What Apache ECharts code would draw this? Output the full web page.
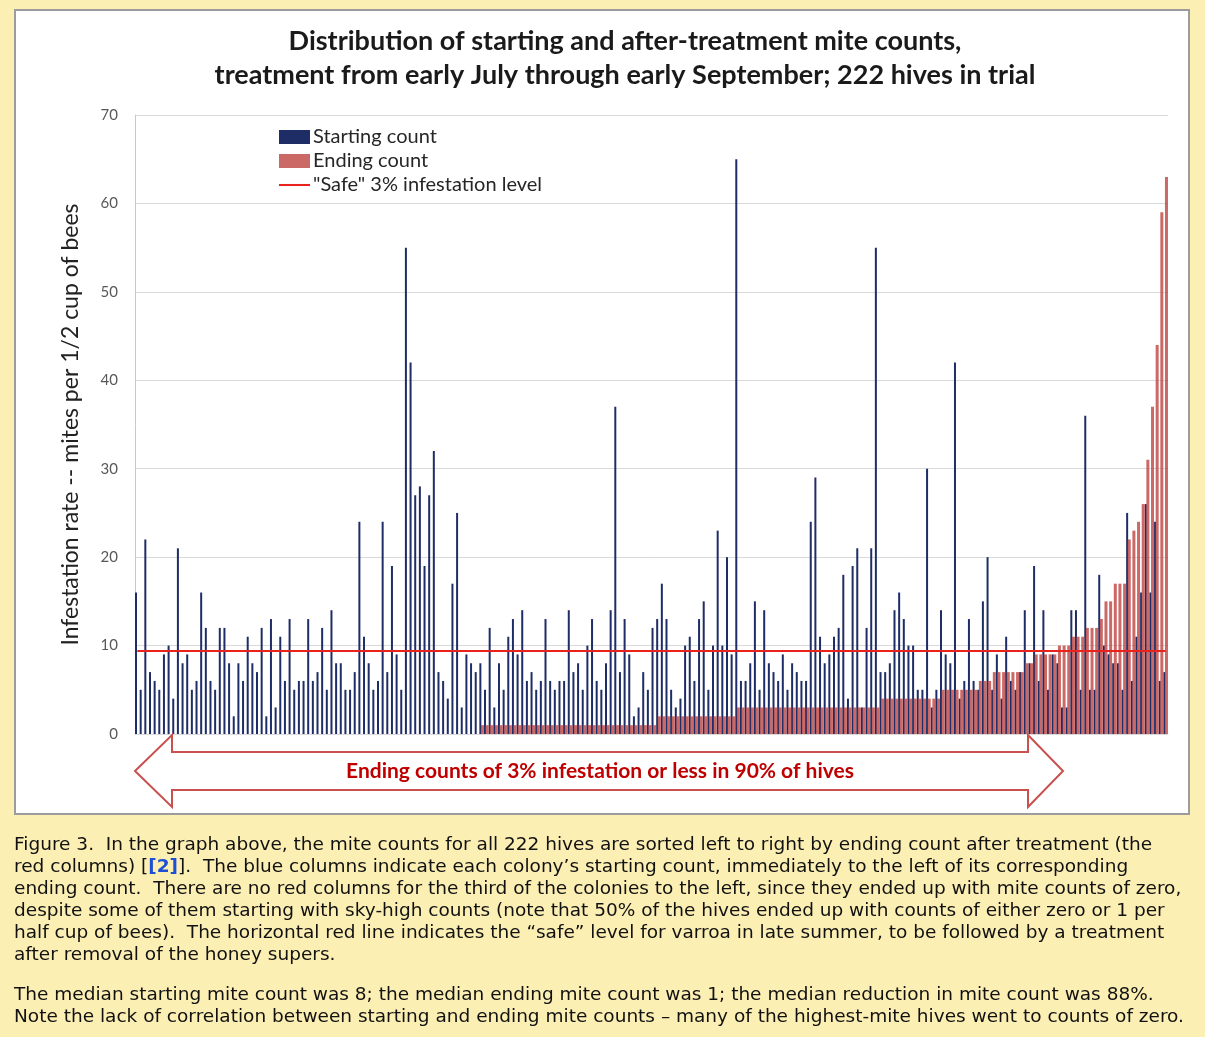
<!DOCTYPE html>
<html>
<head>
<meta charset="utf-8">
<script src="https://cdn.jsdelivr.net/npm/echarts@6/dist/echarts.min.js"></script>
<style>
  html, body { margin: 0; padding: 0; background: #fcefb4; }
  #chart { width: 1205px; height: 1037px; }
</style>
</head>
<body>
<div id="chart"></div>
<script>
// ---------------- DATA ----------------
const TITLE_LINES = [
  'Distribution of starting and after-treatment mite counts,',
  'treatment from early July through early September; 222 hives in trial'
];
const Y_AXIS_NAME = 'Infestation rate -- mites per 1/2 cup of bees';
const SERIES_NAMES = ['Starting count', 'Ending count', '"Safe" 3% infestation level'];
const SAFE_LEVEL = 9.4;
const Y_TICKS = [0, 10, 20, 30, 40, 50, 60, 70];

const STARTING = [
  16, 5, 22, 7, 6, 5, 9, 10, 4, 21, 8, 9, 5, 6, 16, 12, 6, 5, 12, 12,
  8, 2, 8, 6, 11, 8, 7, 12, 2, 13, 3, 11, 6, 13, 5, 6, 6, 13, 6, 7,
  12, 5, 14, 8, 8, 5, 5, 7, 24, 11, 8, 5, 6, 24, 7, 19, 9, 5, 55, 42,
  27, 28, 19, 27, 32, 7, 6, 4, 17, 25, 3, 9, 8, 7, 8, 5, 12, 3, 8, 5,
  11, 13, 9, 14, 6, 7, 5, 6, 13, 6, 5, 6, 6, 14, 7, 8, 5, 10, 13, 6,
  5, 8, 14, 37, 7, 13, 9, 2, 3, 7, 5, 12, 13, 17, 13, 5, 3, 4, 10, 11,
  6, 13, 15, 5, 10, 23, 10, 20, 9, 65, 6, 6, 8, 15, 5, 14, 8, 7, 6, 9,
  5, 8, 7, 6, 6, 24, 29, 11, 8, 9, 11, 12, 18, 4, 19, 21, 3, 12, 21, 55,
  7, 7, 8, 14, 16, 13, 10, 10, 5, 5, 30, 3, 5, 14, 9, 8, 42, 4, 6, 13,
  6, 5, 15, 20, 5, 9, 4, 11, 6, 5, 7, 14, 8, 19, 6, 14, 5, 9, 8, 3,
  3, 14, 14, 5, 36, 5, 5, 18, 10, 9, 8, 8, 5, 25, 6, 11, 16, 26, 16, 24,
  6, 7
];
const ENDING = [
  0, 0, 0, 0, 0, 0, 0, 0, 0, 0, 0, 0, 0, 0, 0, 0, 0, 0, 0, 0,
  0, 0, 0, 0, 0, 0, 0, 0, 0, 0, 0, 0, 0, 0, 0, 0, 0, 0, 0, 0,
  0, 0, 0, 0, 0, 0, 0, 0, 0, 0, 0, 0, 0, 0, 0, 0, 0, 0, 0, 0,
  0, 0, 0, 0, 0, 0, 0, 0, 0, 0, 0, 0, 0, 0, 1, 1, 1, 1, 1, 1,
  1, 1, 1, 1, 1, 1, 1, 1, 1, 1, 1, 1, 1, 1, 1, 1, 1, 1, 1, 1,
  1, 1, 1, 1, 1, 1, 1, 1, 1, 1, 1, 1, 2, 2, 2, 2, 2, 2, 2, 2,
  2, 2, 2, 2, 2, 2, 2, 2, 2, 3, 3, 3, 3, 3, 3, 3, 3, 3, 3, 3,
  3, 3, 3, 3, 3, 3, 3, 3, 3, 3, 3, 3, 3, 3, 3, 3, 3, 3, 3, 3,
  4, 4, 4, 4, 4, 4, 4, 4, 4, 4, 4, 4, 4, 5, 5, 5, 5, 5, 5, 5,
  5, 6, 6, 6, 7, 7, 7, 7, 7, 7, 7, 8, 8, 9, 9, 9, 9, 9, 10, 10,
  10, 11, 11, 11, 12, 12, 12, 13, 15, 15, 17, 17, 17, 22, 23, 24, 26, 31, 37, 44,
  59, 63
];
const HIVES = STARTING.map((_, i) => 'Hive ' + (i + 1));

const ARROW_TEXT = 'Ending counts of 3% infestation or less in 90% of hives';
const CAPTION_LINES = [
  'Figure 3.  In the graph above, the mite counts for all 222 hives are sorted left to right by ending count after treatment (the',
  'red columns) [{link|[2]}].  The blue columns indicate each colony\u2019s starting count, immediately to the left of its corresponding',
  'ending count.  There are no red columns for the third of the colonies to the left, since they ended up with mite counts of zero,',
  'despite some of them starting with sky-high counts (note that 50% of the hives ended up with counts of either zero or 1 per',
  'half cup of bees).  The horizontal red line indicates the \u201csafe\u201d level for varroa in late summer, to be followed by a treatment',
  'after removal of the honey supers.'
];
const CAPTION_LINES_2 = [
  'The median starting mite count was 8; the median ending mite count was 1; the median reduction in mite count was 88%.',
  'Note the lack of correlation between starting and ending mite counts \u2013 many of the highest-mite hives went to counts of zero.'
];

// ---------------- CHART ----------------
const chart = echarts.init(document.getElementById('chart'), null, { renderer: 'canvas' });

const graphics = [
  { type: 'rect', z: -10, shape: { x: 15, y: 10, width: 1174, height: 804 },
    style: { fill: '#ffffff', stroke: '#9c9c9c', lineWidth: 2 } },
  { type: 'text', z: 10, x: 625, y: 41, style: { text: TITLE_LINES[0], fontSize: 27, fontWeight: 'bold',
    fontFamily: 'Lato', fill: '#1a1a1a', align: 'center', verticalAlign: 'middle' } },
  { type: 'text', z: 10, x: 625, y: 75, style: { text: TITLE_LINES[1], fontSize: 27, fontWeight: 'bold',
    fontFamily: 'Lato', fill: '#1a1a1a', align: 'center', verticalAlign: 'middle' } },
  { type: 'polygon', z: 5,
    shape: { points: [[135, 771], [172, 735], [172, 752], [1028, 752], [1028, 735], [1063, 771],
                      [1028, 807], [1028, 790], [172, 790], [172, 807]] },
    style: { fill: '#ffffff', stroke: '#c8504d', lineWidth: 2 } },
  { type: 'text', z: 10, x: 600, y: 771, style: { text: ARROW_TEXT, fontSize: 21, fontWeight: 'bold',
    fontFamily: 'Lato', fill: '#c00000', align: 'center', verticalAlign: 'middle' } }
];
const capStyle = { fontSize: 18.5, fontFamily: 'DejaVu Sans', fill: '#111111', align: 'left', verticalAlign: 'middle',
  rich: { link: { fontSize: 18.5, fontFamily: 'DejaVu Sans', fontWeight: 'bold', fill: '#1f4fd6', color: '#1f4fd6' } } };
CAPTION_LINES.forEach((t, i) => {
  graphics.push({ type: 'text', z: 10, x: 14, y: 845 + i * 22, style: Object.assign({}, capStyle, { text: t }) });
});
CAPTION_LINES_2.forEach((t, i) => {
  graphics.push({ type: 'text', z: 10, x: 14, y: 995 + i * 22, style: Object.assign({}, capStyle, { text: t }) });
});

const option = {
  backgroundColor: '#fcefb4',
  animation: false,
  grid: { left: 135, right: 37, top: 115, bottom: 303, containLabel: false },
  legend: {
    orient: 'vertical', left: 274, top: 122, itemGap: 4, itemWidth: 31, itemHeight: 14,
    textStyle: { fontSize: 20, fontFamily: 'Lato', color: '#262626', lineHeight: 18, padding: [0, 0, 0, -2] },
    data: [
      { name: SERIES_NAMES[0], icon: 'rect' },
      { name: SERIES_NAMES[1], icon: 'rect' },
      { name: SERIES_NAMES[2], icon: 'path://M0,0H30V2H0Z' }
    ]
  },
  xAxis: {
    type: 'category', data: HIVES, boundaryGap: true,
    axisLine: { show: true, lineStyle: { color: '#d9d9d9', width: 1 } },
    axisTick: { show: false }, axisLabel: { show: false }, splitLine: { show: false }
  },
  yAxis: {
    type: 'value', min: Y_TICKS[0], max: Y_TICKS[Y_TICKS.length - 1], interval: 10,
    name: Y_AXIS_NAME, nameLocation: 'middle', nameRotate: 90, nameGap: 53,
    nameTextStyle: { fontSize: 23, fontFamily: 'Lato', color: '#222222' },
    axisLine: { show: true, lineStyle: { color: '#c8c8c8', width: 1 } },
    axisTick: { show: false },
    axisLabel: { fontSize: 15, fontFamily: 'Lato', color: '#595959', margin: 17 },
    splitLine: { show: true, lineStyle: { color: '#d9d9d9', width: 1 } }
  },
  series: [
    { name: SERIES_NAMES[0], type: 'bar', data: STARTING, barWidth: 2, barGap: '-20%',
      itemStyle: { color: '#1f2d66' }, z: 2 },
    { name: SERIES_NAMES[1], type: 'bar', data: ENDING, barWidth: 3, barGap: '-20%',
      itemStyle: { color: 'rgba(192,72,70,0.82)' }, z: 3 },
    { name: SERIES_NAMES[2], type: 'line', data: [[0, SAFE_LEVEL], [HIVES.length - 1, SAFE_LEVEL]],
      symbol: 'none', lineStyle: { color: '#e8231d', width: 2 }, itemStyle: { color: '#e8231d' }, z: 4 }
  ],
  graphic: graphics
};
chart.setOption(option);
</script>
</body>
</html>
